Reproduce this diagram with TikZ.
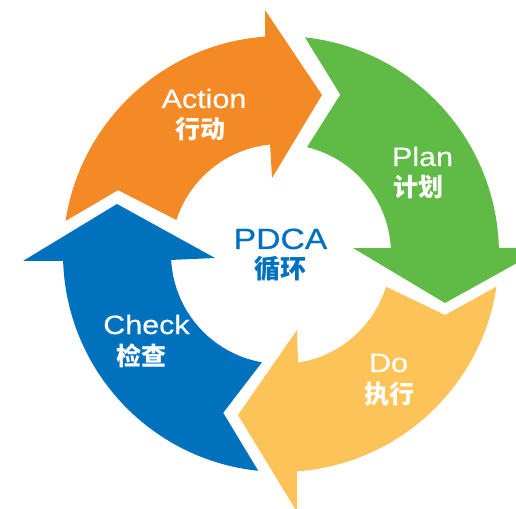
\documentclass[tikz,border=0pt]{standalone}
\usepackage{fontspec}
\newfontfamily\latf[FakeStretch=1.15,FakeBold=0.4]{Liberation Sans}
\newfontfamily\cjkf{Noto Sans CJK SC}
\definecolor{orangeA}{HTML}{F48A25}
\definecolor{greenP}{HTML}{60BB46}
\definecolor{yellowD}{HTML}{FCC358}
\definecolor{blueC}{HTML}{0071BC}
\definecolor{blueT}{HTML}{0070C0}
\begin{document}
\begin{tikzpicture}[x=1pt,y=1pt,
  lat/.style={font=\latf\fontsize{26.5}{30}\selectfont, text=white, anchor=base, inner sep=0pt},
  cjk/.style={font=\cjkf\bfseries\fontsize{25}{28}\selectfont, text=white, anchor=base, inner sep=0pt}]
\useasboundingbox (-281,-254) rectangle (235,254);
\clip (-281,-254) rectangle (235,254);
% Action (orange)
\fill[orangeA] (171.3:218) arc[start angle=171.3, end angle=94.2, radius=218]
  -- (-16,244) -- (41,159) -- (-9,76) -- (95.7:110)
  arc[start angle=95.7, end angle=162, radius=110] -- (158.6:175) -- cycle;
% Plan (green)
\fill[greenP] (83.7:218) arc[start angle=83.7, end angle=1.6, radius=218]
  -- (263,6) -- (164,-49) -- (72,6) -- (3.1:110)
  arc[start angle=3.1, end angle=76.3, radius=110] -- (69.6:170) -- cycle;
% Do (yellow)
\fill[yellowD] (-8.6:218) arc[start angle=-8.6, end angle=-85.8, radius=218]
  -- (16,-258) -- (-43,-161) -- (16,-76) -- (-81.1:110)
  arc[start angle=-81.1, end angle=-17.3, radius=110] -- (-20.4:175) -- cycle;
% Check (blue)
\fill[blueC] (264:218) arc[start angle=264, end angle=181.8, radius=218]
  -- (-258,-7) -- (-164,50) -- (-66,-4) -- (183.1:110)
  arc[start angle=183.1, end angle=260, radius=110] -- (250:169) -- cycle;
% labels
\node[lat] (act) at (-77,146) {Action};
\node[cjk] (actc) at (-80,115) {行动};
\node[lat] (plan) at (141.5,88) {Plan};
\node[cjk] (planc) at (137.5,57) {计划};
\node[lat] (do) at (107.5,-118) {Do};
\node[cjk] (doc) at (108,-149) {执行};
\node[lat] (chk) at (-134.5,-80) {Check};
\node[cjk] (chkc) at (-139,-111) {检查};
\node[lat, text=blueT, font=\latf\fontsize{29.3}{32}\selectfont] (pdca) at (-0.5,5) {PDCA};
\node[cjk, text=blueT, font=\cjkf\bfseries\fontsize{26}{28}\selectfont] (pdcac) at (-1,-25) {循环};
\end{tikzpicture}
\end{document}
